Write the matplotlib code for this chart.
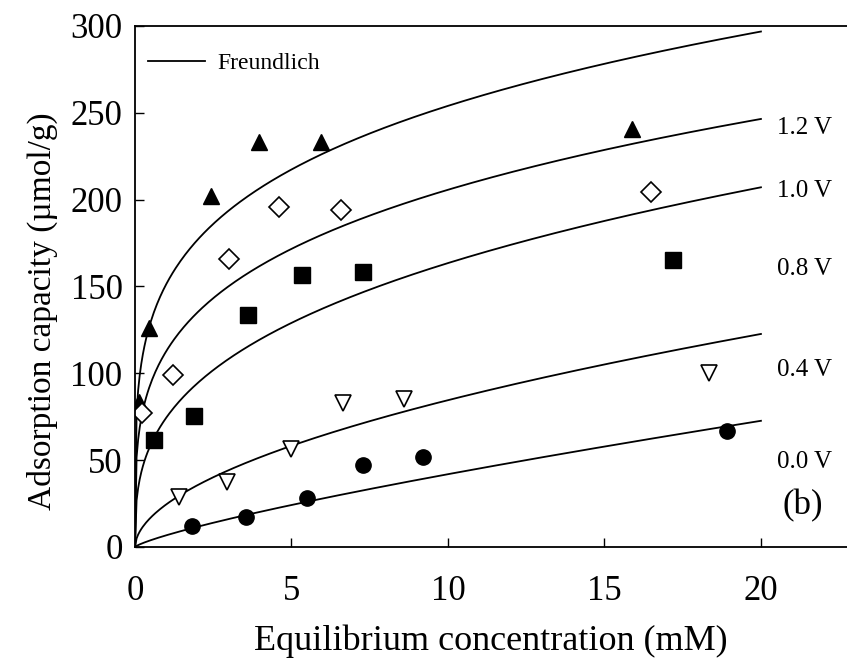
import numpy as np
import matplotlib
matplotlib.use('Agg')
import matplotlib.pyplot as plt

plt.rcParams['font.family'] = ['Liberation Serif', 'DejaVu Serif']

# measured adsorption points for each applied voltage
x_12 = [0.14, 0.45, 2.42, 3.96, 5.94, 15.87]
y_12 = [83.7, 125.9, 202.0, 233.3, 233.3, 240.5]

x_10 = [0.23, 1.2, 3.01, 4.61, 6.58, 16.48]
y_10 = [77.0, 99.0, 165.6, 196.0, 193.8, 204.6]

x_08 = [0.62, 1.9, 3.6, 5.35, 7.29, 17.19]
y_08 = [61.6, 75.4, 133.6, 156.6, 158.3, 165.2]

x_04 = [1.42, 2.93, 5.0, 6.63, 8.6, 18.34]
y_04 = [29.0, 37.6, 56.2, 83.0, 85.4, 100.0]

x_00 = [1.82, 3.55, 5.5, 7.3, 9.2, 18.93]
y_00 = [12.3, 17.3, 28.2, 47.2, 51.8, 66.8]

# Freundlich fit parameters q = K * C^(1/n)
freund_K = [151.4, 112.8, 74.5, 24.55, 6.74]
freund_inv_n = [0.2247, 0.2609, 0.3413, 0.537, 0.7937]

volt_labels = ['1.2 V', '1.0 V', '0.8 V', '0.4 V', '0.0 V']
label_y = [241, 205, 160, 102, 49]

fig = plt.figure(figsize=(8.47, 6.66), dpi=100)
ax = fig.add_axes([0.1594, 0.1787, 0.8406, 0.7823])

# fitted curves
c = np.linspace(0, 20, 400)
for i, (K, a) in enumerate(zip(freund_K, freund_inv_n)):
    ax.plot(c, K * c ** a, color='black', lw=1.3,
            label='Freundlich' if i == 0 else None)

# data points
ax.plot(x_12, y_12, ls='none', marker='^', ms=12, mfc='black', mec='black')
ax.plot(x_10, y_10, ls='none', marker='D', ms=10.5, mfc='white', mec='black', mew=1.2)
ax.plot(x_08, y_08, ls='none', marker='s', ms=11, mfc='black', mec='black')
ax.plot(x_04, y_04, ls='none', marker='v', ms=12, mfc='white', mec='black', mew=1.2)
ax.plot(x_00, y_00, ls='none', marker='o', ms=11, mfc='black', mec='black')

for lab, yy in zip(volt_labels, label_y):
    ax.text(20.5, yy, lab, fontsize=18, va='center', ha='left')
ax.text(20.7, 24, '(b)', fontsize=25, va='center', ha='left')

ax.set_xlim(0, 22.75)
ax.set_ylim(0, 300)
ax.set_xticks([0, 5, 10, 15, 20])
ax.set_yticks(range(0, 301, 50))
ax.tick_params(direction='in', length=6.5, width=1, labelsize=25)
ax.tick_params(axis='x', pad=20)
ax.tick_params(axis='y', pad=9)
ax.spines['right'].set_visible(False)
for s in ['left', 'bottom', 'top']:
    ax.spines[s].set_linewidth(1.3)

ax.set_xlabel('Equilibrium concentration (mM)', fontsize=26, labelpad=12)
ax.set_ylabel('Adsorption capacity (µmol/g)', fontsize=24)
ax.yaxis.set_label_coords(-0.108, 0.453)

ax.legend(loc='upper left', frameon=False, fontsize=17,
          handlelength=2.4, handletextpad=0.55,
          bbox_to_anchor=(-0.005, 0.981), borderaxespad=0.3, borderpad=0.4)

fig.savefig('out.png', dpi=100)
